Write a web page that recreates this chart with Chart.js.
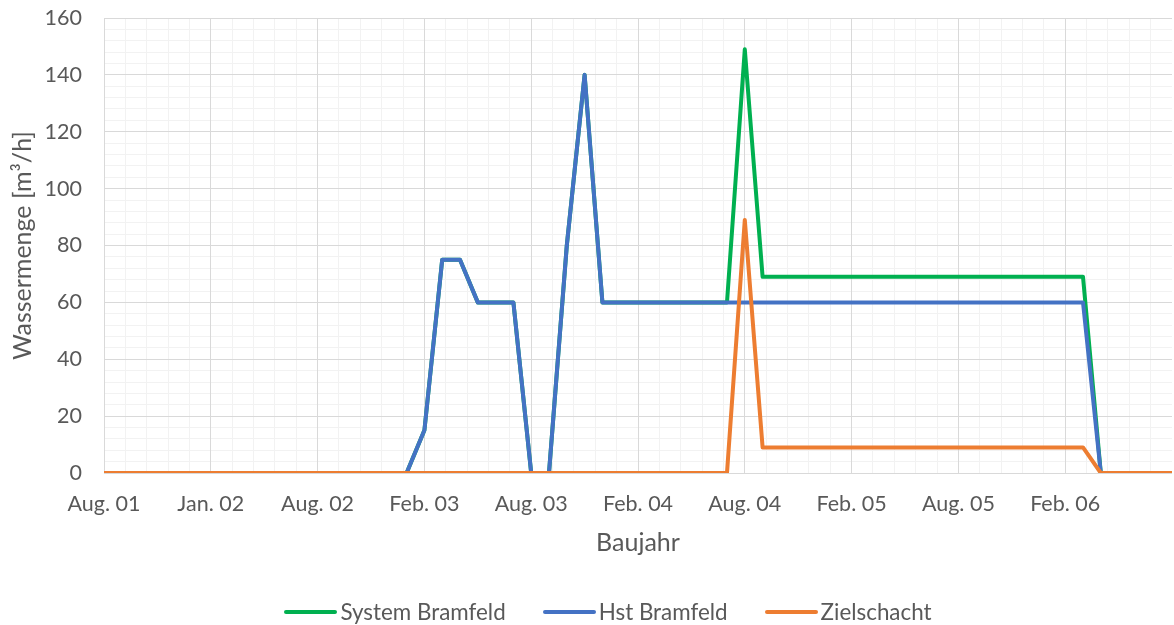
<!DOCTYPE html>
<html>
<head>
<meta charset="utf-8">
<script src="https://cdn.jsdelivr.net/npm/chart.js@4/dist/chart.umd.min.js"></script>
<style>
html,body{margin:0;padding:0;background:#fff;overflow:hidden;}
#wrap{position:relative;width:1174px;height:625px;}
#legend{position:absolute;left:0;top:597px;width:1216px;height:30px;display:flex;justify-content:center;align-items:center;
  font-family:Lato,"Open Sans",sans-serif;font-size:22.4px;color:#595959;line-height:30px;}
#legend .item{display:flex;align-items:center;margin:0 18.5px;white-space:nowrap;}
#legend .sw{display:inline-block;width:53px;height:4px;border-radius:2px;margin-right:3px;}
</style>
</head>
<body>
<div id="wrap">
  <canvas id="c" width="1174" height="625"></canvas>
  <div id="legend"></div>
</div>
<script>
// 61 monthly steps from Aug. 01; labels shown every 6th step
const tickLabels = ['Aug. 01','Jan. 02','Aug. 02','Feb. 03','Aug. 03','Feb. 04','Aug. 04','Feb. 05','Aug. 05','Feb. 06'];
const seriesNames = ['System Bramfeld', 'Hst Bramfeld', 'Zielschacht'];
const seriesColors = ['#00B050', '#4472C4', '#ED7D31'];
const systemBramfeld = [0,0,0,0,0,0,0,0,0,0, 0,0,0,0,0,0,0,0,15,75, 75,60,60,60,0,0,80,140,60,60, 60,60,60,60,60,60,149,69,69,69, 69,69,69,69,69,69,69,69,69,69, 69,69,69,69,69,69,0,0,0,0, 0];
const hstBramfeld    = [0,0,0,0,0,0,0,0,0,0, 0,0,0,0,0,0,0,0,15,75, 75,60,60,60,0,0,80,140,60,60, 60,60,60,60,60,60,60,60,60,60, 60,60,60,60,60,60,60,60,60,60, 60,60,60,60,60,60,0,0,0,0, 0];
const zielschacht    = [0,0,0,0,0,0,0,0,0,0, 0,0,0,0,0,0,0,0,0,0, 0,0,0,0,0,0,0,0,0,0, 0,0,0,0,0,0,89,9,9,9, 9,9,9,9,9,9,9,9,9,9, 9,9,9,9,9,9,0,0,0,0, 0];
const steps = systemBramfeld.map((_, i) => i);

const FONT = 'Lato, "Open Sans", sans-serif';
const TXT = '#595959';

const toXY = arr => arr.map((v, i) => ({x: steps[i], y: v}));
const seriesValues = [systemBramfeld, hstBramfeld, zielschacht];

const datasets = seriesValues.map((vals, i) => ({
  label: seriesNames[i],
  data: toXY(vals),
  borderColor: seriesColors[i],
  backgroundColor: seriesColors[i],
  borderWidth: 4,
  pointRadius: 0,
  tension: 0,
  borderJoinStyle: 'round',
  borderCapStyle: 'round',
  order: 2 - i   // later series drawn on top, as in the original
}));

const noPad = s => { s.paddingLeft = 0; s.paddingRight = 0; s.paddingTop = 0; s.paddingBottom = 0; };
const lastTickClear = (col) => ctx => (ctx.tick && Math.abs(ctx.tick.value - 60) < 0.01) ? 'rgba(0,0,0,0)' : col;

new Chart(document.getElementById('c'), {
  type: 'line',
  data: {datasets},
  options: {
    responsive: false,
    animation: false,
    devicePixelRatio: 1,
    layout: {padding: {top: 18, right: 2, left: 0, bottom: 0}},
    scales: {
      xMinor: {
        type: 'linear', position: 'bottom', min: 0, max: 60,
        ticks: {display: false, stepSize: 1.2},
        grid: {color: lastTickClear('#F2F2F2'), lineWidth: 1, drawTicks: false, z: -2},
        border: {display: false},
        afterFit: s => { s.height = 0; noPad(s); }
      },
      yMinor: {
        type: 'linear', position: 'left', min: 0, max: 160,
        ticks: {display: false, stepSize: 4},
        grid: {color: '#F2F2F2', lineWidth: 1, drawTicks: false, z: -2},
        border: {display: false},
        afterFit: s => { s.width = 0; noPad(s); }
      },
      x: {
        type: 'linear', position: 'bottom', min: 0, max: 60,
        ticks: {
          stepSize: 6, autoSkip: false, maxRotation: 0, padding: 18,
          color: TXT, font: {family: FONT, size: 21.5},
          callback: v => tickLabels[Math.round(v / 6)] || ''
        },
        grid: {color: lastTickClear('#D9D9D9'), lineWidth: 1, drawTicks: false, z: -1},
        border: {display: false},
        title: {display: true, text: 'Baujahr', color: TXT, font: {family: FONT, size: 25}, padding: {top: 0, bottom: 67}},
        afterFit: s => { s.height = 152; noPad(s); }
      },
      y: {
        type: 'linear', position: 'left', min: 0, max: 160,
        ticks: {stepSize: 20, padding: 22, color: TXT, font: {family: FONT, size: 21.5}},
        grid: {color: '#D9D9D9', lineWidth: 1, drawTicks: false, z: -1},
        border: {display: false},
        title: {display: true, text: 'Wassermenge [m³/h]', color: TXT, font: {family: FONT, size: 25}, padding: {top: 8, bottom: 0}},
        afterFit: s => { s.width = 104; noPad(s); }
      }
    },
    plugins: {
      legend: {display: false},
      tooltip: {enabled: false}
    }
  }
});

// legend (real text), built from the series names and colours
const leg = document.getElementById('legend');
seriesNames.forEach((name, i) => {
  const it = document.createElement('span');
  it.className = 'item';
  const sw = document.createElement('span');
  sw.className = 'sw';
  sw.style.background = seriesColors[i];
  const tx = document.createElement('span');
  tx.textContent = name;
  it.appendChild(sw); it.appendChild(tx);
  leg.appendChild(it);
});
</script>
</body>
</html>
